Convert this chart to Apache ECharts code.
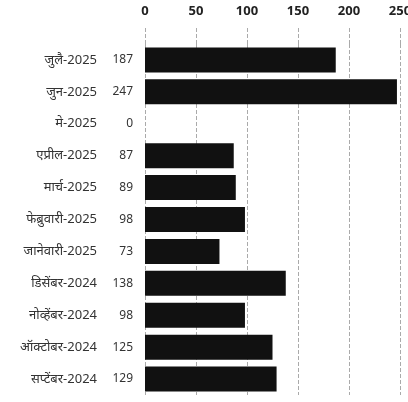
<!DOCTYPE html>
<html>
<head>
<meta charset="utf-8">
<script src="https://cdn.jsdelivr.net/npm/echarts@6/dist/echarts.min.js"></script>
<style>
html,body{margin:0;padding:0;background:#fff;overflow:hidden;}
#c{width:408px;height:402px;}
</style>
</head>
<body>
<div id="c"></div>
<script>
var categories = ['जुलै-2025','जुन-2025','मे-2025','एप्रील-2025','मार्च-2025','फेब्रुवारी-2025','जानेवारी-2025','डिसेंबर-2024','नोव्हेंबर-2024','ऑक्टोबर-2024','सप्टेंबर-2024'];
var values = [187, 247, 0, 87, 89, 98, 73, 138, 98, 125, 129];
var xTicks = [0, 50, 100, 150, 200, 250];

var chart = echarts.init(document.getElementById('c'));
chart.setOption({
  animation: false,
  backgroundColor: '#fff',
  grid: {left: 145, right: 8, top: 44, bottom: 7, containLabel: false, outerBoundsMode: 'none'},
  xAxis: {
    type: 'value', position: 'top', min: xTicks[0], max: xTicks[xTicks.length-1], interval: 50,
    axisLine: {show: false},
    axisTick: {show: true, length: 16, lineStyle: {color: '#aaa', type: 'dashed'}},
    axisLabel: {margin: 26, color: '#222', fontSize: 13, fontWeight: 'bold', fontFamily: 'Noto Sans'},
    splitLine: {show: true, lineStyle: {color: '#aaa', type: 'dashed', width: 1}}
  },
  yAxis: {
    type: 'category', data: categories, inverse: true,
    axisLine: {show: false}, axisTick: {show: false},
    axisLabel: {margin: 48, color: '#333', fontSize: 13, fontFamily: 'Noto Sans'}
  },
  series: [{
    type: 'bar', data: values, barWidth: 25,
    itemStyle: {color: '#111'},
    label: {show: true, position: 'left', distance: 12, color: '#333', fontSize: 12, fontFamily: 'Noto Sans'}
  }]
});
</script>
</body>
</html>
